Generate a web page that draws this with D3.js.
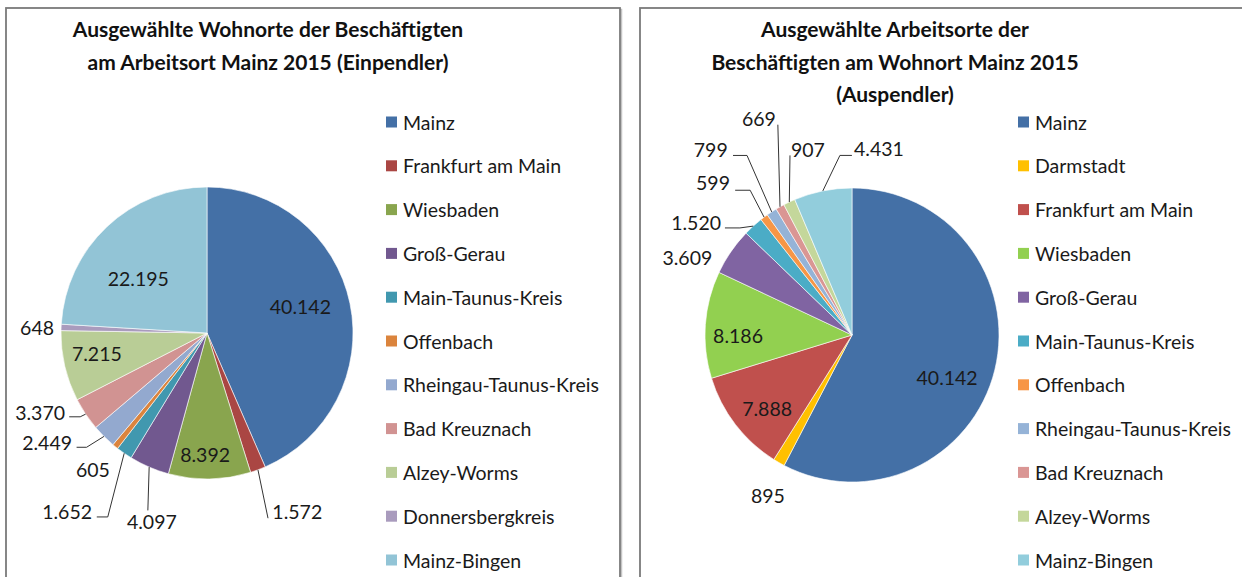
<!DOCTYPE html>
<html>
<head>
<meta charset="utf-8">
<script src="https://cdn.jsdelivr.net/npm/d3@7"></script>
<style>
  body { margin: 0; background: #fff; }
  svg { display: block; font-family: Lato, "Open Sans", sans-serif; }
</style>
</head>
<body>
<div id="chart"></div>
<script>
// Einpendler (Wohnorte der Beschaeftigten am Arbeitsort Mainz 2015)
var leftNames = ["Mainz", "Frankfurt am Main", "Wiesbaden", "Groß-Gerau", "Main-Taunus-Kreis",
  "Offenbach", "Rheingau-Taunus-Kreis", "Bad Kreuznach", "Alzey-Worms", "Donnersbergkreis", "Mainz-Bingen"];
var leftValues = [40142, 1572, 8392, 4097, 1652, 605, 2449, 3370, 7215, 648, 22195];
var leftColors = ["#4470a6", "#aa4643", "#89a54e", "#71588f", "#4198af", "#db843d",
  "#93a9cf", "#d19392", "#b9cd96", "#a99bbd", "#92c4d6"];

// Auspendler (Arbeitsorte der Beschaeftigten am Wohnort Mainz 2015)
var rightNames = ["Mainz", "Darmstadt", "Frankfurt am Main", "Wiesbaden", "Groß-Gerau", "Main-Taunus-Kreis",
  "Offenbach", "Rheingau-Taunus-Kreis", "Bad Kreuznach", "Alzey-Worms", "Mainz-Bingen"];
var rightValues = [40142, 895, 7888, 8186, 3609, 1520, 599, 799, 669, 907, 4431];
var rightColors = ["#4470a6", "#ffc000", "#c0504d", "#92d050", "#8064a2", "#4bacc6",
  "#f79646", "#95b3d7", "#da9694", "#c4d79b", "#92cddc"];

// label placement: [angle shift from slice middle (deg), radius, elbow angle shift, elbow radius, tail]
var leftLabelPos = [[-3.9, 97], [-6.4, 200, 2.2, 195, 0], [1.9, 122], [-7, 196, -4.9, 187, 0],
  [3.5, 227, -6.2, 209, -11], [0.9, 178], [10.6, 194, 1.6, 166, -10], [8.2, 185, 0.3, 152, -11],
  [2.8, 112], [-0.5, 170], [-8.1, 88]];
var rightLabelPos = [[10.1, 104], [-2.1, 181], [-3.2, 112], [-4.1, 114], [-9.3, 182],
  [-12.1, 192, -4.1, 155, -15], [-5.7, 206, 1.6, 177, -15], [-4.2, 233, 2.8, 208, -14],
  [6.1, 236, 9.9, 223, 0], [11.9, 191, 6.2, 190, 0], [19.7, 188, 7.6, 180, 12]];

var width = 1242, height = 577;

var svg = d3.select("#chart").append("svg")
  .attr("width", width)
  .attr("height", height);

var de = d3.formatLocale({ decimal: ",", thousands: ".", grouping: [3], currency: ["", " €"] });
var fmt = de.format(",d");

// panel frames
function frame(x, y, w, h) {
  svg.append("rect").attr("x", x + 1.5).attr("y", y + 1.5).attr("width", w).attr("height", h)
    .attr("fill", "none").attr("stroke", "#c4c4c4").attr("stroke-width", 1.5);
  svg.append("rect").attr("x", x).attr("y", y).attr("width", w).attr("height", h)
    .attr("fill", "#fff").attr("stroke", "#7a7a7a").attr("stroke-width", 1.8);
}
frame(6, 8, 614, 600);
frame(640, 8, 640, 600);

function drawPie(cfg) {
  var g = svg.append("g");

  // title
  var title = g.append("text")
    .attr("text-anchor", "middle")
    .attr("font-weight", "bold")
    .attr("font-size", 21)
    .attr("fill", "#111");
  cfg.title.forEach(function(line, i) {
    title.append("tspan")
      .attr("x", cfg.titleX)
      .attr("y", cfg.titleY + i * 32.5)
      .text(line);
  });

  var pie = d3.pie().sort(null).value(function(d) { return d; });
  var arcs = pie(cfg.values);
  var arc = d3.arc().innerRadius(0).outerRadius(cfg.r);

  var pg = g.append("g").attr("transform", "translate(" + cfg.cx + "," + cfg.cy + ")");

  pg.selectAll("path")
    .data(arcs)
    .join("path")
    .attr("d", arc)
    .attr("fill", function(d, i) { return cfg.colors[i]; })
    .attr("stroke", "#fff")
    .attr("stroke-width", 0.6);

  var rad = Math.PI / 180;
  arcs.forEach(function(d, i) {
    var mid = (d.startAngle + d.endAngle) / 2;
    var p = cfg.labelPos[i];
    var pos = d3.pointRadial(mid + p[0] * rad, p[1]);
    if (p.length > 2) {
      var start = d3.pointRadial(mid, cfg.r);
      var elbow = d3.pointRadial(mid + p[2] * rad, p[3]);
      var pts = [start, elbow];
      if (p[4] !== 0) pts.push([elbow[0] + p[4], elbow[1]]);
      pg.append("path")
        .attr("d", d3.line()(pts))
        .attr("fill", "none")
        .attr("stroke", "#333")
        .attr("stroke-width", 1);
    }
    pg.append("text")
      .attr("x", pos[0])
      .attr("y", pos[1])
      .attr("text-anchor", "middle")
      .attr("dominant-baseline", "central")
      .attr("font-size", 19.5)
      .attr("fill", "#1a1a1a")
      .text(fmt(cfg.values[i]));
  });

  // legend
  var leg = g.append("g");
  var rows = leg.selectAll("g")
    .data(cfg.names)
    .join("g")
    .attr("transform", function(d, i) { return "translate(" + cfg.legX + "," + (cfg.legY + i * 43.8) + ")"; });
  rows.append("rect")
    .attr("x", 0).attr("y", -5.5)
    .attr("width", 11).attr("height", 11)
    .attr("fill", function(d, i) { return cfg.colors[i]; });
  rows.append("text")
    .attr("x", 17)
    .attr("y", 0)
    .attr("dominant-baseline", "central")
    .attr("font-size", 19.5)
    .attr("fill", "#1a1a1a")
    .text(function(d) { return d; });
}

drawPie({
  title: ["Ausgewählte Wohnorte der Beschäftigten", "am Arbeitsort Mainz 2015 (Einpendler)"],
  titleX: 268, titleY: 37,
  names: leftNames, values: leftValues, colors: leftColors, labelPos: leftLabelPos,
  cx: 207, cy: 333, r: 146,
  legX: 386, legY: 122
});

drawPie({
  title: ["Ausgewählte Arbeitsorte der", "Beschäftigten am Wohnort Mainz 2015", "(Auspendler)"],
  titleX: 895, titleY: 37,
  names: rightNames, values: rightValues, colors: rightColors, labelPos: rightLabelPos,
  cx: 852, cy: 335, r: 147,
  legX: 1018, legY: 122
});
</script>
</body>
</html>
